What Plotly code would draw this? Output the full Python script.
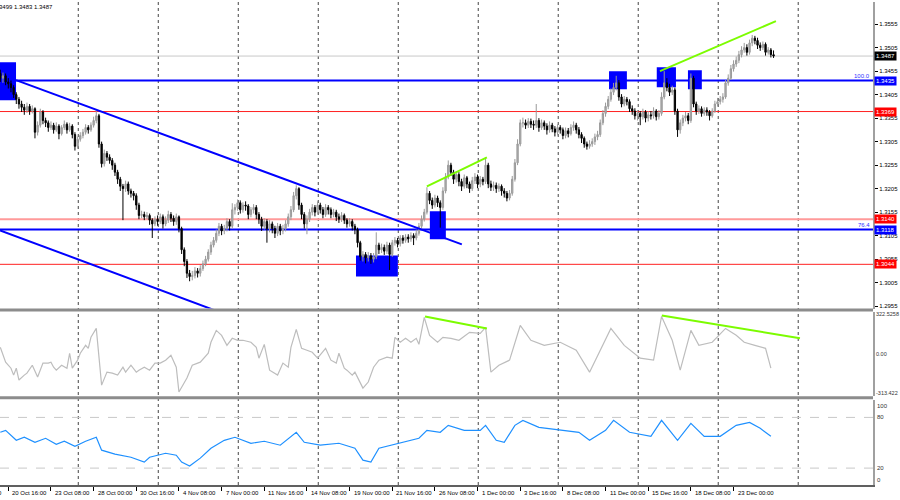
import plotly.graph_objects as go

# ---------------- data ----------------
first_open = 1.3450
closes = [1.3440, 1.3445, 1.3432, 1.3428, 1.3420, 1.3405,
 1.3395, 1.3385, 1.3378,
 1.3372, 1.3380, 1.3370, 1.3375,
 1.3325, 1.3340, 1.3368,
 1.3350, 1.3345, 1.3335, 1.3340, 1.3330, 1.3338,
 1.3322,
 1.3335, 1.3342, 1.3330, 1.3338,
 1.3320, 1.3295,
 1.3310, 1.3318, 1.3325, 1.3335, 1.3330, 1.3340, 1.3350,
 1.3360,
 1.3300, 1.3258,
 1.3280, 1.3272, 1.3265,
 1.3255, 1.3240, 1.3225, 1.3210,
 1.3205,
 1.3215, 1.3200, 1.3195, 1.3190,
 1.3170, 1.3148,
 1.3150, 1.3145, 1.3148,
 1.3138, 1.3130,
 1.3140, 1.3135, 1.3145, 1.3130, 1.3138, 1.3150, 1.3142, 1.3135, 1.3145,
 1.3120, 1.3075, 1.3050,
 1.3025, 1.3018,
 1.3020, 1.3030, 1.3025, 1.3035,
 1.3045, 1.3055, 1.3070, 1.3085, 1.3095,
 1.3110, 1.3125, 1.3115,
 1.3120, 1.3135, 1.3125, 1.3160,
 1.3165, 1.3175, 1.3160, 1.3170, 1.3168, 1.3150, 1.3160, 1.3165,
 1.3150, 1.3140, 1.3125, 1.3135, 1.3120,
 1.3130, 1.3120, 1.3110, 1.3125, 1.3115, 1.3120, 1.3130, 1.3145, 1.3160,
 1.3190, 1.3205,
 1.3170, 1.3150, 1.3130, 1.3140, 1.3155,
 1.3165, 1.3155, 1.3170, 1.3160, 1.3150, 1.3165,
 1.3160, 1.3150, 1.3155, 1.3145, 1.3140, 1.3148, 1.3138, 1.3130, 1.3135, 1.3125, 1.3118,
 1.3090, 1.3060, 1.3065,
 1.3058, 1.3062, 1.3055, 1.3060,
 1.3085,
 1.3075, 1.3080, 1.3072, 1.3085, 1.3065,
 1.3090, 1.3095, 1.3088, 1.3100, 1.3095, 1.3102, 1.3098, 1.3105, 1.3100,
 1.3110, 1.3125, 1.3140, 1.3155,
 1.3195,
 1.3180, 1.3170, 1.3185, 1.3175,
 1.3165,
 1.3200, 1.3230, 1.3255, 1.3240,
 1.3225, 1.3235, 1.3220, 1.3210, 1.3228, 1.3215, 1.3205,
 1.3222, 1.3230, 1.3215, 1.3225, 1.3220,
 1.3255,
 1.3215, 1.3208, 1.3212, 1.3205, 1.3210,
 1.3200, 1.3195, 1.3185, 1.3195,
 1.3225, 1.3260,
 1.3300, 1.3345,
 1.3345, 1.3340, 1.3348, 1.3342,
 1.3340, 1.3350,
 1.3335, 1.3345, 1.3338, 1.3330, 1.3340, 1.3332,
 1.3325, 1.3335, 1.3330, 1.3318, 1.3328, 1.3322, 1.3335, 1.3340, 1.3330, 1.3320,
 1.3312, 1.3300, 1.3295,
 1.3300, 1.3305, 1.3315, 1.3320,
 1.3345, 1.3365, 1.3380,
 1.3395, 1.3410, 1.3420, 1.3430,
 1.3400, 1.3385, 1.3395, 1.3390, 1.3375,
 1.3370, 1.3360, 1.3365, 1.3358, 1.3368, 1.3355, 1.3362, 1.3360, 1.3370, 1.3358, 1.3365,
 1.3400, 1.3430,
 1.3420, 1.3410, 1.3415,
 1.3370, 1.3330, 1.3345,
 1.3355, 1.3360, 1.3350,
 1.3440, 1.3385,
 1.3370, 1.3375, 1.3365, 1.3372, 1.3368, 1.3360, 1.3370,
 1.3385, 1.3390, 1.3395, 1.3400,
 1.3430, 1.3440,
 1.3460, 1.3470, 1.3478,
 1.3490, 1.3500, 1.3505, 1.3495,
 1.3515, 1.3525, 1.3520, 1.3510,
 1.3505, 1.3512, 1.3495, 1.3500, 1.3490, 1.3487]

highs = [1.3458, 1.3452, 1.3450, 1.3440, 1.3435, 1.3425,
 1.3410, 1.3400, 1.3392,
 1.3385, 1.3388, 1.3385, 1.3382,
 1.3378, 1.3348, 1.3375,
 1.3372, 1.3356, 1.3350, 1.3348, 1.3345, 1.3346,
 1.3342,
 1.3340, 1.3350, 1.3346, 1.3345,
 1.3342, 1.3325,
 1.3316, 1.3325, 1.3332, 1.3342, 1.3340, 1.3346, 1.3358,
 1.3372,
 1.3364, 1.3305,
 1.3288, 1.3285, 1.3278,
 1.3270, 1.3260, 1.3245, 1.3230,
 1.3215,
 1.3222, 1.3220, 1.3205, 1.3200,
 1.3195, 1.3175,
 1.3158, 1.3156, 1.3155,
 1.3152, 1.3142,
 1.3146, 1.3148, 1.3152, 1.3150, 1.3146, 1.3158, 1.3155, 1.3148, 1.3152,
 1.3148, 1.3124, 1.3080,
 1.3055, 1.3032,
 1.3030, 1.3038, 1.3036, 1.3042,
 1.3052, 1.3062, 1.3076, 1.3092, 1.3102,
 1.3118, 1.3132, 1.3130,
 1.3128, 1.3142, 1.3140, 1.3174,
 1.3172, 1.3182, 1.3180, 1.3176, 1.3178, 1.3172, 1.3166, 1.3172,
 1.3170, 1.3155, 1.3145, 1.3142, 1.3140,
 1.3138, 1.3135, 1.3126, 1.3132, 1.3130, 1.3128, 1.3138, 1.3152, 1.3168,
 1.3198, 1.3212,
 1.3208, 1.3175, 1.3155, 1.3148, 1.3162,
 1.3172, 1.3170, 1.3178, 1.3175, 1.3166, 1.3172,
 1.3170, 1.3165, 1.3162, 1.3160, 1.3152, 1.3155, 1.3152, 1.3142, 1.3142, 1.3140, 1.3130,
 1.3122, 1.3094, 1.3072,
 1.3070, 1.3070, 1.3068, 1.3068,
 1.3112,
 1.3090, 1.3088, 1.3086, 1.3092, 1.3090,
 1.3096, 1.3102, 1.3100, 1.3106, 1.3106, 1.3108, 1.3108, 1.3112, 1.3110,
 1.3118, 1.3132, 1.3148, 1.3162,
 1.3208,
 1.3200, 1.3186, 1.3192, 1.3190,
 1.3180,
 1.3208, 1.3238, 1.3265, 1.3260,
 1.3245, 1.3242, 1.3240, 1.3226, 1.3235, 1.3232, 1.3220,
 1.3230, 1.3238, 1.3235, 1.3232, 1.3230,
 1.3272,
 1.3260, 1.3222, 1.3220, 1.3218, 1.3216,
 1.3214, 1.3206, 1.3200, 1.3202,
 1.3232, 1.3268,
 1.3310, 1.3352,
 1.3356, 1.3352, 1.3355, 1.3354,
 1.3350, 1.3385,
 1.3355, 1.3352, 1.3350, 1.3344, 1.3348, 1.3345,
 1.3338, 1.3342, 1.3340, 1.3335, 1.3335, 1.3334, 1.3342, 1.3348, 1.3345, 1.3336,
 1.3325, 1.3316, 1.3305,
 1.3308, 1.3312, 1.3322, 1.3328,
 1.3352, 1.3372, 1.3388,
 1.3402, 1.3418, 1.3430, 1.3445,
 1.3436, 1.3406, 1.3402, 1.3400, 1.3395,
 1.3382, 1.3376, 1.3372, 1.3370, 1.3375, 1.3372, 1.3370, 1.3370, 1.3378, 1.3374, 1.3372,
 1.3410, 1.3455,
 1.3440, 1.3428, 1.3424,
 1.3420, 1.3375, 1.3352,
 1.3362, 1.3368, 1.3366,
 1.3450, 1.3445,
 1.3390, 1.3382, 1.3380, 1.3378, 1.3378, 1.3372, 1.3376,
 1.3392, 1.3398, 1.3402, 1.3408,
 1.3436, 1.3448,
 1.3468, 1.3478, 1.3486,
 1.3498, 1.3508, 1.3515, 1.3512,
 1.3522, 1.3532, 1.3530, 1.3526,
 1.3516, 1.3518, 1.3516, 1.3506, 1.3504, 1.3499]

lows = [1.3432, 1.3430, 1.3425, 1.3418, 1.3410, 1.3398,
 1.3385, 1.3375, 1.3368,
 1.3362, 1.3366, 1.3362, 1.3365,
 1.3312, 1.3318, 1.3335,
 1.3342, 1.3336, 1.3326, 1.3330, 1.3322, 1.3326,
 1.3310,
 1.3318, 1.3330, 1.3322, 1.3326,
 1.3312, 1.3286,
 1.3290, 1.3305, 1.3312, 1.3320, 1.3322, 1.3326, 1.3335,
 1.3344,
 1.3292, 1.3250,
 1.3252, 1.3264, 1.3258,
 1.3245, 1.3232, 1.3215, 1.3200,
 1.3138,
 1.3198, 1.3192, 1.3186, 1.3180,
 1.3160, 1.3140,
 1.3142, 1.3138, 1.3140,
 1.3128, 1.3100,
 1.3125, 1.3126, 1.3130, 1.3120, 1.3125, 1.3132, 1.3134, 1.3126, 1.3128,
 1.3112, 1.3066, 1.3040,
 1.3015, 1.3008,
 1.3010, 1.3014, 1.3016, 1.3018,
 1.3030, 1.3040, 1.3050, 1.3064, 1.3080,
 1.3090, 1.3104, 1.3106,
 1.3108, 1.3114, 1.3116, 1.3120,
 1.3150, 1.3158, 1.3152, 1.3154, 1.3158, 1.3140, 1.3144, 1.3152,
 1.3140, 1.3130, 1.3115, 1.3118, 1.3090,
 1.3112, 1.3110, 1.3100, 1.3104, 1.3106, 1.3108, 1.3114, 1.3124, 1.3138,
 1.3155, 1.3182,
 1.3160, 1.3140, 1.3120, 1.3108, 1.3134,
 1.3148, 1.3146, 1.3150, 1.3152, 1.3142, 1.3145,
 1.3150, 1.3142, 1.3144, 1.3136, 1.3132, 1.3134, 1.3130, 1.3122, 1.3124, 1.3116, 1.3108,
 1.3080, 1.3052, 1.3050,
 1.3046, 1.3050, 1.3045, 1.3048,
 1.3055,
 1.3066, 1.3068, 1.3064, 1.3066, 1.3032,
 1.3060, 1.3084, 1.3080, 1.3082, 1.3088, 1.3090, 1.3090, 1.3092, 1.3085,
 1.3095, 1.3105, 1.3120, 1.3135,
 1.3150,
 1.3172, 1.3162, 1.3165, 1.3166,
 1.3122,
 1.3160, 1.3195, 1.3225, 1.3232,
 1.3215, 1.3218, 1.3210, 1.3200, 1.3205, 1.3206, 1.3196,
 1.3200, 1.3215, 1.3206, 1.3208, 1.3212,
 1.3215,
 1.3206, 1.3200, 1.3200, 1.3196, 1.3198,
 1.3190, 1.3186, 1.3178, 1.3180,
 1.3190, 1.3220,
 1.3255, 1.3295,
 1.3335, 1.3332, 1.3334, 1.3334,
 1.3330, 1.3334,
 1.3326, 1.3330, 1.3330, 1.3320, 1.3324, 1.3325,
 1.3316, 1.3318, 1.3322, 1.3310, 1.3312, 1.3314, 1.3318, 1.3328, 1.3322, 1.3312,
 1.3302, 1.3292, 1.3288,
 1.3290, 1.3294, 1.3298, 1.3308,
 1.3315, 1.3340, 1.3358,
 1.3374, 1.3390, 1.3404, 1.3414,
 1.3392, 1.3378, 1.3380, 1.3382, 1.3368,
 1.3362, 1.3352, 1.3350, 1.3340, 1.3352, 1.3346, 1.3348, 1.3352, 1.3354, 1.3350, 1.3352,
 1.3360, 1.3395,
 1.3412, 1.3402, 1.3404,
 1.3362, 1.3315, 1.3322,
 1.3338, 1.3348, 1.3342,
 1.3345, 1.3378,
 1.3362, 1.3364, 1.3358, 1.3360, 1.3360, 1.3350, 1.3356,
 1.3366, 1.3380, 1.3384, 1.3388,
 1.3396, 1.3424,
 1.3436, 1.3454, 1.3464,
 1.3472, 1.3484, 1.3494, 1.3488,
 1.3490, 1.3508, 1.3512, 1.3502,
 1.3498, 1.3500, 1.3488, 1.3490, 1.3484, 1.3483]

# bar index of the first visible candle (bar 0 = "20 Oct 16:00")
first_bar = -3
bars = list(range(first_bar, first_bar + len(closes)))
opens = [first_open] + closes[:-1]

tick_bars = [-16, 0, 16, 32, 48, 64, 80, 96, 112, 128, 144, 160, 176, 192, 208, 224, 240, 256, 272]
tick_labels = ["16 Oct 00:00", "20 Oct 16:00", "23 Oct 08:00", "28 Oct 00:00", "30 Oct 16:00", "4 Nov 08:00",
               "7 Nov 00:00", "11 Nov 16:00", "14 Nov 08:00", "19 Nov 00:00", "21 Nov 16:00",
               "26 Nov 08:00", "1 Dec 00:00", "3 Dec 16:00", "8 Dec 08:00", "11 Dec 00:00",
               "15 Dec 16:00", "18 Dec 08:00", "23 Dec 00:00"]
grid_bars = [26.25, 56.25, 86.25, 116.25, 146.25, 176.25, 206.25, 236.25, 266.25, 296.25]

price_ticks = [1.2955, 1.3005, 1.3055, 1.3105, 1.3155, 1.3205, 1.3255, 1.3305,
               1.3355, 1.3405, 1.3455, 1.3505, 1.3555]

# CCI (bar, value)
cci_bars = [-3, -1, 1, 2, 3, 4, 6, 7, 9, 11, 13, 15, 16, 17, 18, 20, 22, 23, 24, 26, 27, 29, 30, 31, 33,
            35, 37, 39, 41, 43, 44, 46, 48, 49, 51, 53, 55, 57, 59, 61, 63, 64, 67, 69, 72, 75, 76, 78,
            80, 82, 84, 86, 88, 91, 93, 94, 96, 98, 101, 103, 105, 106, 108, 110, 112, 114, 116, 119,
            121, 123, 124, 126, 127, 129, 130, 133, 135, 137, 139, 142, 144, 145, 147, 149, 151, 153,
            154, 156, 158, 161, 163, 166, 169, 173, 177, 179, 181, 184, 188, 192, 196, 201, 207, 213,
            218, 222, 226, 231, 237, 242, 245, 249, 252, 256, 259, 264, 269, 273, 276, 280, 284, 286]
cci_vals = [56, -64, -113, -169, -113, -209, -169, -153, -89, -185, -72, -72, -64, -105, -129, -89, -113,
            8, -113, -48, 8, 72, 48, 137, 209, -250, -145, -153, -169, -105, -145, -89, -145, -129, -105,
            -129, -72, -72, -48, -8, -105, -306, -193, -89, -64, 8, 97, 193, 153, 72, 129, 113, 113, 97,
            56, -32, 80, -129, -169, -72, -105, 56, 201, 48, 32, 16, -32, 48, -48, -72, 8, -113, -129,
            -169, -145, -274, -225, -105, -48, -24, -32, 137, 97, 129, 97, 129, 80, 298, 153, 97, 137,
            129, 113, 177, 169, 217, -145, -89, -48, 233, 113, 72, 97, 32, -145, 32, 209, 72, -32, -48,
            306, 113, -129, 193, 72, 97, 209, 153, 97, 72, 48, -113]

# RSI (bar, value)
rsi_bars = [-3, -1, 3, 6, 10, 14, 18, 21, 25, 29, 33, 35, 40, 46, 51, 53, 59, 63, 65, 68, 72, 76, 81,
            85, 91, 96, 102, 108, 111, 117, 124, 130, 133, 136, 139, 147, 154, 157, 162, 165, 171, 177,
            179, 183, 186, 190, 193, 199, 207, 214, 218, 224, 227, 233, 241, 245, 251, 256, 261, 267,
            273, 278, 282, 286]
rsi_vals = [62.4, 64.7, 52.9, 56.5, 50.6, 55.3, 48.2, 51.8, 45.9, 51.8, 56.5, 41.2, 36.5, 32.9, 27.1,
            32.9, 37.6, 35.3, 27.1, 22.4, 31.8, 43.5, 52.9, 56.5, 49.4, 51.8, 47.1, 62.4, 50.6, 47.1,
            49.4, 43.5, 29.4, 27.1, 43.5, 49.4, 55.3, 64.7, 62.4, 70.6, 64.7, 64.7, 70.6, 52.9, 50.6,
            70.6, 76.5, 68.2, 64.7, 62.4, 52.9, 64.7, 76.5, 62.4, 57.6, 76.5, 52.9, 72.9, 57.6, 57.6,
            70.6, 74.1, 67.1, 57.6]

# horizontal levels
level_prices = [1.3487, 1.3435, 1.3369, 1.3140, 1.3118, 1.3044]
level_line_colors = ["#c8c8c8", "#0000ff", "#ff2020", "#ff9a9a", "#0000ff", "#ff2020"]
level_line_widths = [1, 2, 1, 2, 2, 1]
level_box_colors = ["#000000", "#0000ff", "#ff0000", "#ff0000", "#0000ff", "#ff0000"]

# blue zones: (bar0, bar1, price_low, price_high)
zone_bar0 = [-3.2, 130.4, 158.1, 225.3, 243.2, 254.9]
zone_bar1 = [2.9, 146.1, 164.1, 232.0, 250.4, 260.1]
zone_lo = [1.3393, 1.30183, 1.30971, 1.34166, 1.34208, 1.34166]
zone_hi = [1.3474, 1.30630, 1.31567, 1.34549, 1.34634, 1.34570]

# channel (blue) lines: (bar0, price0, bar1, price1)
channel_lines = [(2.9, 1.34357, 170.1, 1.30864), (-3.1, 1.31163, 80.0, 1.29408)]
# green divergence lines
green_price = [(157.0, 1.32100, 179.5, 1.32717), (244.4, 1.34549, 287.9, 1.35614)]
green_cci = [(156.3, 306, 179.5, 209), (245.1, 314, 296.9, 129)]

# ---------------- figure ----------------
FONT = "Liberation Sans"
fig = go.Figure()

fig.add_trace(go.Candlestick(
    x=bars, open=opens, high=highs, low=lows, close=closes,
    xaxis="x", yaxis="y",
    increasing=dict(line=dict(color="#9a9a9a", width=1), fillcolor="#b0b0b0"),
    decreasing=dict(line=dict(color="#000000", width=1), fillcolor="#000000"),
    whiskerwidth=0, hoverinfo="skip", showlegend=False))

fig.add_trace(go.Scatter(x=cci_bars, y=cci_vals, xaxis="x", yaxis="y2", mode="lines",
                         line=dict(color="#bdbdbd", width=1.2), hoverinfo="skip", showlegend=False))
fig.add_trace(go.Scatter(x=rsi_bars, y=rsi_vals, xaxis="x", yaxis="y3", mode="lines",
                         line=dict(color="#1e90ff", width=1.2), hoverinfo="skip", showlegend=False))

shapes = []
# vertical dotted grid
for gb in grid_bars:
    shapes.append(dict(type="line", xref="x", yref="paper", x0=gb, x1=gb, y0=0, y1=1,
                       line=dict(color="#444444", width=1, dash="dot"), layer="below"))
# zones
for b0, b1, lo, hi in zip(zone_bar0, zone_bar1, zone_lo, zone_hi):
    shapes.append(dict(type="rect", xref="x", yref="y", x0=b0, x1=b1, y0=lo, y1=hi,
                       fillcolor="#0000ff", line=dict(width=0), layer="below"))
# levels
for p, c, w in zip(level_prices, level_line_colors, level_line_widths):
    shapes.append(dict(type="line", xref="paper", yref="y", x0=0, x1=1, y0=p, y1=p,
                       line=dict(color=c, width=w), layer="below"))
# channel
for b0, p0, b1, p1 in channel_lines:
    shapes.append(dict(type="line", xref="x", yref="y", x0=b0, x1=b1, y0=p0, y1=p1,
                       line=dict(color="#0000ff", width=2)))
for b0, p0, b1, p1 in green_price:
    shapes.append(dict(type="line", xref="x", yref="y", x0=b0, x1=b1, y0=p0, y1=p1,
                       line=dict(color="#7cfc00", width=2)))
for b0, p0, b1, p1 in green_cci:
    shapes.append(dict(type="line", xref="x", yref="y2", x0=b0, x1=b1, y0=p0, y1=p1,
                       line=dict(color="#7cfc00", width=2)))
# RSI levels
for lv in [80, 20]:
    shapes.append(dict(type="line", xref="paper", yref="y3", x0=0, x1=1, y0=lv, y1=lv,
                       line=dict(color="#c8c8c8", width=1, dash="dash"), layer="below"))
# panel separators
for yy in [0.3623, 0.1807]:
    shapes.append(dict(type="line", xref="paper", yref="paper", x0=0, x1=1, y0=yy, y1=yy,
                       line=dict(color="#8c8c8c", width=3)))

annotations = []
small = dict(family=FONT, size=6, color="#000000")
# x labels
for tb, tl in zip(tick_bars, tick_labels):
    if tb < first_bar:
        annotations.append(dict(xref="paper", yref="paper", x=0, y=-0.0166, xanchor="right",
                                yanchor="middle", xshift=4, text=tl, showarrow=False, font=small))
    else:
        annotations.append(dict(xref="x", yref="paper", x=tb, y=-0.0166, xanchor="left",
                                yanchor="middle", xshift=2, text=tl, showarrow=False, font=small))
# price level boxes
for p, c in zip(level_prices, level_box_colors):
    annotations.append(dict(xref="paper", yref="y", x=1, y=p, xanchor="left", yanchor="middle",
                            xshift=1, text=f"{p:.4f}", showarrow=False, bgcolor=c, borderpad=1,
                            font=dict(family=FONT, size=6, color="#ffffff")))
annotations.append(dict(xref="paper", yref="y", x=1, y=1.3435, xanchor="right", yanchor="bottom",
                        xshift=-1, text="100.0", showarrow=False,
                        font=dict(family=FONT, size=6, color="#3030ff")))
annotations.append(dict(xref="paper", yref="y", x=1, y=1.3118, xanchor="right", yanchor="bottom",
                        xshift=-1, text="76.4", showarrow=False,
                        font=dict(family=FONT, size=6, color="#3030ff")))
# header
annotations.append(dict(xref="paper", yref="paper", x=0, y=1, xanchor="left", yanchor="top",
                        xshift=-3, text="3499 1.3483 1.3487", showarrow=False, font=small))
# CCI labels
for v, t in [(322.5258, "322.5258"), (0, "0.00"), (-313.422, "-313.422")]:
    annotations.append(dict(xref="paper", yref="y2", x=1, y=v, xanchor="left", yanchor="middle",
                            xshift=1, text=t, showarrow=False,
                            font=dict(family=FONT, size=5.5, color="#333333")))
# RSI labels
for v, t, ya in [(100, "100", "top"), (80, "80", "middle"), (20, "20", "middle"), (0, "0", "bottom")]:
    annotations.append(dict(xref="paper", yref="y3", x=1, y=v, xanchor="left", yanchor=ya,
                            xshift=2, text=t, showarrow=False,
                            font=dict(family=FONT, size=6, color="#333333")))

fig.update_layout(
    width=900, height=500,
    margin=dict(l=0, r=27, t=2, b=15),
    paper_bgcolor="#ffffff", plot_bgcolor="#ffffff",
    showlegend=False,
    font=dict(family=FONT, size=6, color="#000000"),
    xaxis=dict(domain=[0, 1], range=[-3.11, 324.3], anchor="y3", showgrid=False, zeroline=False,
               showline=True, linecolor="#606060", linewidth=1.5, ticks="outside", ticklen=4,
               tickcolor="#000000", tickvals=tick_bars, showticklabels=False,
               rangeslider=dict(visible=False), fixedrange=True),
    yaxis=dict(domain=[0.3654, 1.0], range=[1.2950, 1.3602], side="right", anchor="x",
               tickvals=price_ticks, tickformat=".4f", ticks="outside", ticklen=3,
               tickcolor="#000000", showline=True, linecolor="#a0a0a0", linewidth=2,
               showgrid=False, zeroline=False, tickfont=dict(family=FONT, size=6, color="#000000")),
    yaxis2=dict(domain=[0.1843, 0.3592], range=[-338, 346], side="right", anchor="x",
                showticklabels=False, showline=True, linecolor="#a0a0a0", linewidth=2,
                showgrid=False, zeroline=False),
    yaxis3=dict(domain=[0.0, 0.1770], range=[0, 101.2], side="right", anchor="x",
                showticklabels=False, showline=True, linecolor="#a0a0a0", linewidth=2,
                showgrid=False, zeroline=False),
    shapes=shapes, annotations=annotations,
)

fig.write_html("out.html", config={"displayModeBar": False, "staticPlot": True},
               post_script="document.body.style.margin='0px'; document.body.style.overflow='hidden';")
